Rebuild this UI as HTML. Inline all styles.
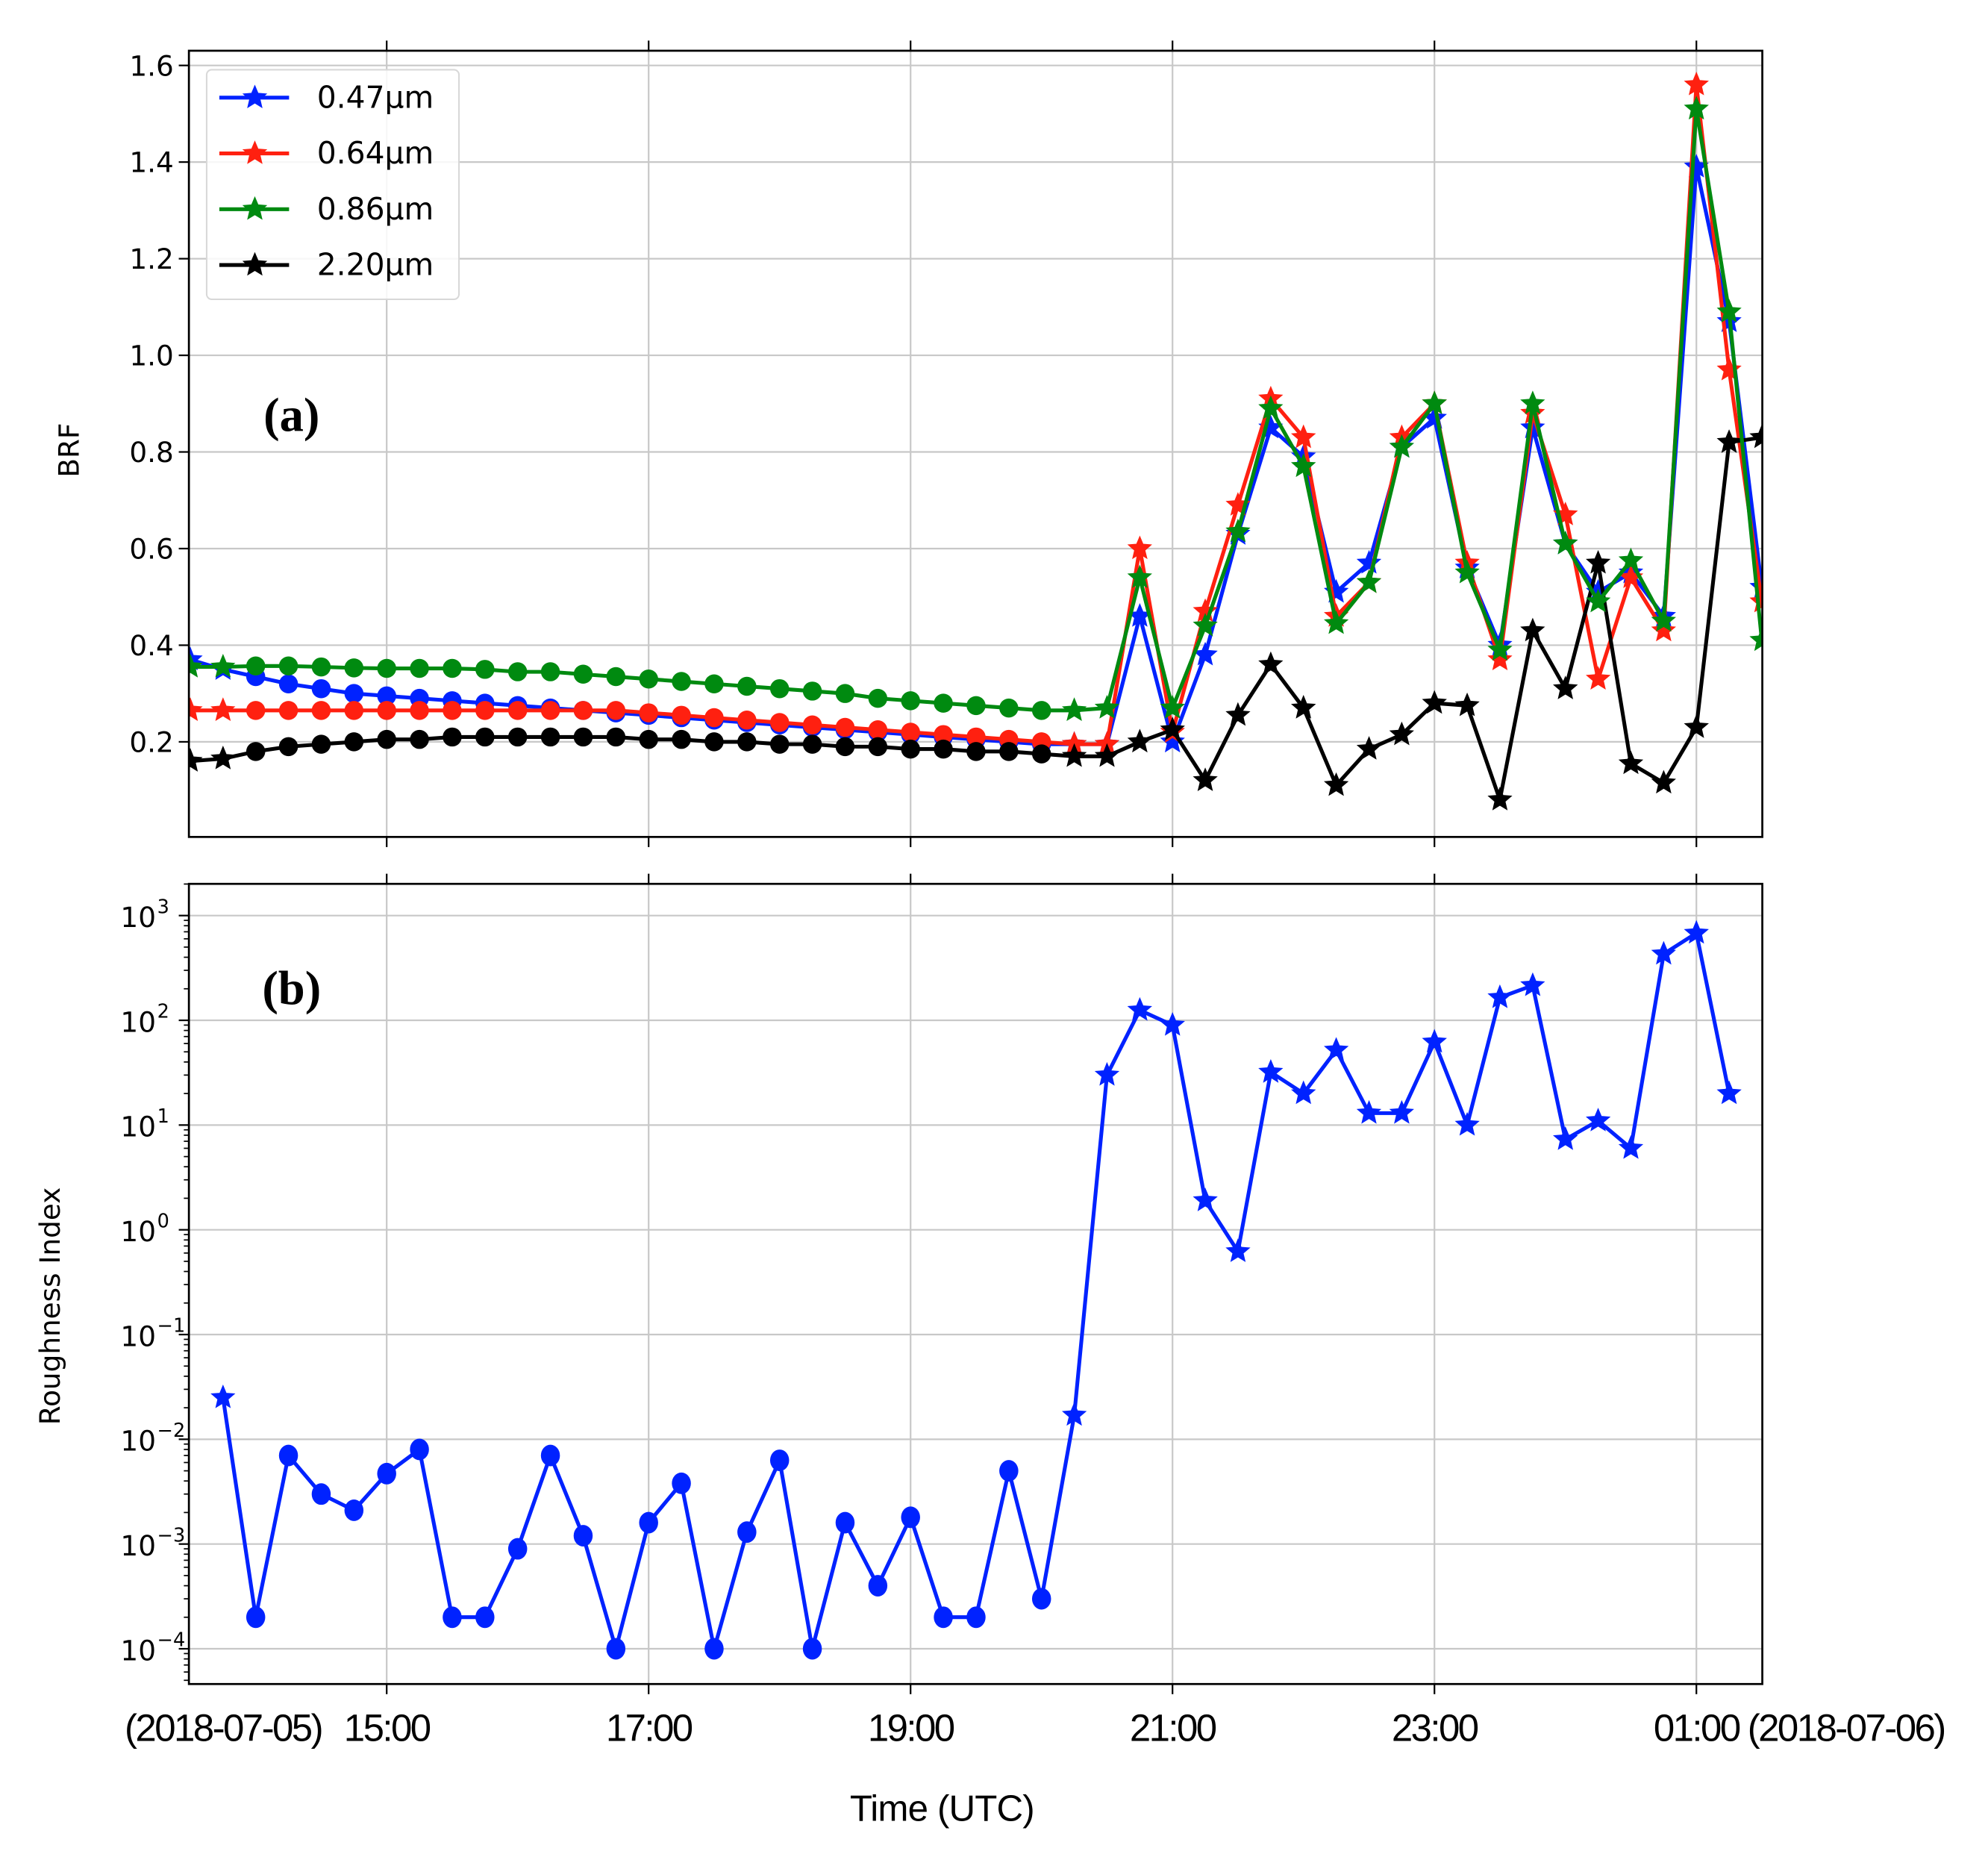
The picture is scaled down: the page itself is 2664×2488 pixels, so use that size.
<!DOCTYPE html>
<html><head><meta charset="utf-8"><style>
html,body{margin:0;padding:0;background:#fff}
svg{display:block}
text{font-family:"DejaVu Sans","Liberation Sans",sans-serif}
text.lib{font-family:"Liberation Sans",sans-serif}
text.ser{font-family:"Liberation Serif",serif}
</style></head><body>
<svg id="chart" width="2664" height="2488" viewBox="0 0 1568 1464.4" xmlns="http://www.w3.org/2000/svg">
<g id="gridA"></g>
<g id="gridB"></g>
<g id="seriesA"></g>
<g id="seriesB"></g>
<g id="axes"></g>
<text x="62" y="355" font-size="22" text-anchor="middle" transform="rotate(-90 62 355)">BRF</text>
<text x="47" y="1030" font-size="22" text-anchor="middle" transform="rotate(-90 47 1030)">Roughness Index</text>
<text class="lib" x="743" y="1436" font-size="29" text-anchor="middle" letter-spacing="-0.5">Time (UTC)</text>
<text class="ser" x="230" y="340" font-size="38" font-weight="bold" text-anchor="middle">(a)</text>
<text class="ser" x="230" y="792" font-size="38" font-weight="bold" text-anchor="middle">(b)</text>
<g id="legend"></g>
</svg>
<script>
const hours = [];
for (let i = 0; i < 49; i++) hours.push(-1.5 + i * 0.25);
const blue = [0.37,0.35,0.335,0.32,0.31,0.30,0.295,0.29,0.285,0.28,0.275,0.27,0.265,0.26,0.255,0.25,0.245,0.24,0.235,0.23,0.225,0.22,0.215,0.21,0.205,0.20,0.195,0.195,0.195,0.46,0.20,0.38,0.63,0.85,0.79,0.51,0.57,0.81,0.87,0.56,0.40,0.85,0.61,0.51,0.55,0.46,1.39,1.07,0.52];
const red = [0.265,0.265,0.265,0.265,0.265,0.265,0.265,0.265,0.265,0.265,0.265,0.265,0.265,0.265,0.26,0.255,0.25,0.245,0.24,0.235,0.23,0.225,0.22,0.215,0.21,0.205,0.20,0.195,0.195,0.60,0.22,0.47,0.69,0.91,0.83,0.46,0.53,0.83,0.90,0.57,0.37,0.88,0.67,0.33,0.54,0.43,1.56,0.97,0.49];
const green = [0.355,0.355,0.357,0.357,0.355,0.353,0.352,0.352,0.352,0.35,0.345,0.345,0.34,0.335,0.33,0.325,0.32,0.315,0.31,0.305,0.30,0.29,0.285,0.28,0.275,0.27,0.265,0.265,0.27,0.54,0.27,0.44,0.635,0.89,0.77,0.445,0.53,0.81,0.90,0.55,0.39,0.90,0.61,0.49,0.575,0.45,1.51,1.09,0.41];
const black = [0.16,0.165,0.18,0.19,0.195,0.20,0.205,0.205,0.21,0.21,0.21,0.21,0.21,0.21,0.205,0.205,0.20,0.20,0.195,0.195,0.19,0.19,0.185,0.185,0.18,0.18,0.175,0.17,0.17,0.20,0.225,0.12,0.255,0.36,0.27,0.11,0.185,0.215,0.28,0.275,0.08,0.43,0.31,0.57,0.155,0.115,0.23,0.82,0.83];
const hoursB = [];
for (let i = 0; i < 47; i++) hoursB.push(-1.25 + i * 0.25);
const rough = [2.5e-2,2e-4,7e-3,3e-3,2.1e-3,4.7e-3,8e-3,2e-4,2e-4,9e-4,7e-3,1.2e-3,1e-4,1.6e-3,3.8e-3,1e-4,1.3e-3,6.3e-3,1e-4,1.6e-3,4e-4,1.8e-3,2e-4,2e-4,5e-3,3e-4,1.7e-2,30,125,90,1.9,0.62,32,20,52,13,13,62,10,165,215,7.3,11,6,430,680,20];
const xTickHours = [0,2,4,6,8,10];
const xTickLabels = ["15:00","17:00","19:00","21:00","23:00","01:00"];
const yTicksA = [0.2,0.4,0.6,0.8,1.0,1.2,1.4,1.6];
const yTicksB = [-4,-3,-2,-1,0,1,2,3];
const legendLabels = ["0.47μm","0.64μm","0.86μm","2.20μm"];
const NS = "http://www.w3.org/2000/svg";
const L = 149, R = 1390, AT = 40, AB = 660, BT = 697, BB = 1328;
const X = h => 305 + h * 103.3;
const YA = v => 280.2 + (1 - v) * 381;
const YB = v => 722 + (3 - Math.log10(v)) * 82.6;
const YBl = lg => 722 + (3 - lg) * 82.6;
function mk(tag, attrs, parent) {
  const e = document.createElementNS(NS, tag);
  for (const k in attrs) e.setAttribute(k, attrs[k]);
  parent.appendChild(e);
  return e;
}
function star(cx, cy, r, color, parent) {
  let p = [];
  for (let i = 0; i < 10; i++) {
    const a = -Math.PI / 2 + i * Math.PI / 5, rr = i % 2 ? r * 0.45 : r;
    p.push((cx + rr * Math.cos(a)).toFixed(1) + "," + (cy + rr * Math.sin(a)).toFixed(1));
  }
  return mk("polygon", {points: p.join(" "), fill: color, stroke: color, "stroke-width": 1}, parent);
}
const gA = document.getElementById("gridA"), gB = document.getElementById("gridB");
const ax = document.getElementById("axes");
xTickHours.forEach(h => {
  const l1 = mk("line", {x1: X(h), x2: X(h), y1: AT, y2: AB, stroke: "#c8c8c8", "stroke-width": 1.3}, gA);
  
  
  const l2 = mk("line", {x1: X(h), x2: X(h), y1: BT, y2: BB, stroke: "#c8c8c8", "stroke-width": 1.3}, gB);
  
  
});
yTicksA.forEach(v => {
  const l = mk("line", {x1: L, x2: R, y1: YA(v), y2: YA(v), stroke: "#c8c8c8", "stroke-width": 1.3}, gA);
  
  
  mk("line", {x1: L - 8, x2: L, y1: YA(v), y2: YA(v), stroke: "#000", "stroke-width": 1.3}, ax);
  const t = mk("text", {x: L - 12, y: YA(v) + 8, "font-size": 22, "text-anchor": "end"}, ax);
  t.textContent = v.toFixed(1);
  
  
});
yTicksB.forEach(lg => {
  const y = YBl(lg);
  const l = mk("line", {x1: L, x2: R, y1: y, y2: y, stroke: "#c8c8c8", "stroke-width": 1.3}, gB);
  
  
  mk("line", {x1: L - 8, x2: L, y1: y, y2: y, stroke: "#000", "stroke-width": 1.3}, ax);
  for (let m = 2; m <= 9; m++) {
    const ym = YBl(lg + Math.log10(m));
    if (ym > BT && ym < BB) mk("line", {x1: L - 4, x2: L, y1: ym, y2: ym, stroke: "#000", "stroke-width": 1}, ax);
  }
  const t = mk("text", {x: L - 26, y: y + 9, "font-size": 22, "text-anchor": "end"}, ax);
  t.textContent = "10";
  
  
  const s = mk("text", {x: L - 25, y: y - 2, "font-size": 15, "text-anchor": "start"}, ax);
  s.textContent = lg < 0 ? "\u2212" + (-lg) : String(lg);
  
  
});
for (let m = 2; m <= 9; m++) {
  const ym = YBl(-5 + Math.log10(m));
  if (ym > BT && ym < BB) mk("line", {x1: L - 4, x2: L, y1: ym, y2: ym, stroke: "#000", "stroke-width": 1}, ax);
}
xTickHours.forEach((h, i) => {
  mk("line", {x1: X(h), x2: X(h), y1: AB, y2: AB + 8, stroke: "#000", "stroke-width": 1.3}, ax);
  mk("line", {x1: X(h), x2: X(h), y1: AT - 8, y2: AT, stroke: "#000", "stroke-width": 1.3}, ax);
  mk("line", {x1: X(h), x2: X(h), y1: BT - 8, y2: BT, stroke: "#000", "stroke-width": 1.3}, ax);
  mk("line", {x1: X(h), x2: X(h), y1: BB, y2: BB + 8, stroke: "#000", "stroke-width": 1.3}, ax);
  const t = mk("text", {x: X(h), y: 1373, "font-size": 30, "text-anchor": "middle", "class": "lib", "letter-spacing": "-1.5"}, ax);
  t.textContent = xTickLabels[i];
  
  
});
const d1 = mk("text", {x: 176, y: 1373, "font-size": 30, "text-anchor": "middle", "class": "lib", "letter-spacing": "-1.5"}, ax);
d1.textContent = "(2018-07-05)";


const d2 = mk("text", {x: 1456, y: 1373, "font-size": 30, "text-anchor": "middle", "class": "lib", "letter-spacing": "-1.5"}, ax);
d2.textContent = "(2018-07-06)";


const fa = mk("rect", {x: L, y: AT, width: R - L, height: AB - AT, fill: "none", stroke: "#000", "stroke-width": 1.6}, ax);


const fb = mk("rect", {x: L, y: BT, width: R - L, height: BB - BT, fill: "none", stroke: "#000", "stroke-width": 1.6}, ax);


const sA = document.getElementById("seriesA");
const series = [[blue, "#0022ff", "series-047um"], [red, "#ff2010", "series-064um"], [black, "#000000", "series-220um"], [green, "#008a10", "series-086um"]];
const clipA = mk("clipPath", {id: "clipA"}, sA);
mk("rect", {x: L, y: AT, width: R - L, height: AB - AT}, clipA);
series.forEach(([vals, col, name]) => {
  const g = mk("g", {"clip-path": "url(#clipA)"}, sA);
  
  
  const pts = vals.map((v, i) => X(hours[i]).toFixed(1) + "," + YA(v).toFixed(1)).join(" ");
  mk("polyline", {points: pts, fill: "none", stroke: col, "stroke-width": 3, "stroke-linejoin": "round"}, g);
  vals.forEach((v, i) => {
    let m;
    if (i >= 2 && i <= 26) m = mk("circle", {cx: X(hours[i]), cy: YA(v), r: 7.5, fill: col}, g);
    else m = star(X(hours[i]), YA(v), 9, col, g);
    
    
  });
});
const sB = document.getElementById("seriesB");
const gb = mk("g", {}, sB);


mk("polyline", {points: rough.map((v, i) => X(hoursB[i]).toFixed(1) + "," + YB(v).toFixed(1)).join(" "), fill: "none", stroke: "#0022ff", "stroke-width": 3, "stroke-linejoin": "round"}, gb);
rough.forEach((v, i) => {
  let m;
  if (i >= 1 && i <= 25) m = mk("ellipse", {cx: X(hoursB[i]), cy: YB(v), rx: 7.5, ry: 8.5, fill: "#0022ff"}, gb);
  else m = star(X(hoursB[i]), YB(v), 9, "#0022ff", gb);
  
  
});
const lg = document.getElementById("legend");
const box = mk("rect", {x: 163, y: 55, width: 199, height: 181, rx: 4, fill: "#fff", "fill-opacity": 0.85, stroke: "#d8d8d8", "stroke-width": 1.2}, lg);


const lcols = ["#0022ff", "#ff2010", "#008a10", "#000000"];
legendLabels.forEach((lab, i) => {
  const y = 77 + i * 44;
  const e = mk("g", {}, lg);
  
  
  mk("line", {x1: 173, x2: 228, y1: y, y2: y, stroke: lcols[i], "stroke-width": 3}, e);
  star(201, y, 9, lcols[i], e);
  const t = mk("text", {x: 250, y: y + 8, "font-size": 24}, e);
  t.textContent = lab;
});
</script>
</body></html>
